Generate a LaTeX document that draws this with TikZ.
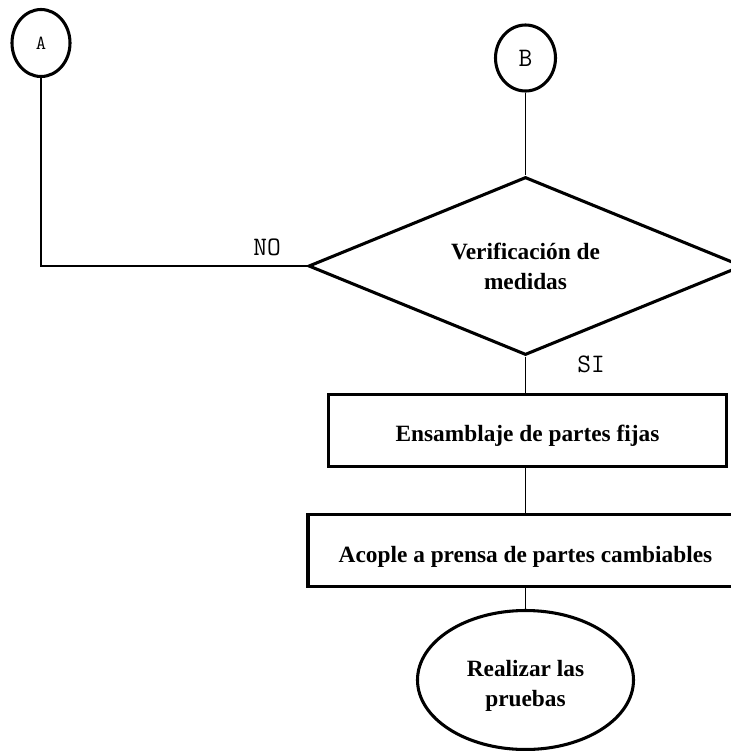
\documentclass[tikz,border=0pt]{standalone}
\usepackage{fontspec}
\setmainfont{Liberation Serif}
\usetikzlibrary{shapes.geometric}

% centred text block, lowered by #1 without changing the extents the node sees
\newcommand{\droptext}[2]{\raisebox{-#1}[\height][\depth]{\begin{tabular}{@{}c@{}}#2\end{tabular}}}

\begin{document}
\begin{tikzpicture}[x=0.75pt, y=-0.75pt,
  outline/.style={draw, line width=2.3pt, inner sep=0pt},
  link/.style={draw, line width=1.4pt},
  boxtext/.style={font=\fontsize{17.5}{22.5}\selectfont\bfseries},
  tag/.style={font=\fontsize{20}{24}\selectfont\ttfamily, inner sep=0pt},
  connector/.style={outline, ellipse},
]
\useasboundingbox (0,0) rectangle (731,751);
\clip (0,0) rectangle (731,751);

% off-page connectors
\node[connector, minimum width=43.5pt, minimum height=50.25pt,
      font=\fontsize{15}{18}\selectfont\ttfamily] (A) at (41,43) {A};
\node[connector, minimum width=45pt, minimum height=49.5pt,
      font=\fontsize{20}{22}\selectfont\ttfamily] (B) at (525.5,58) {B};

% decision
\node[outline, diamond, aspect=2.4, minimum width=325.5pt, minimum height=133.5pt,
      boxtext] (check) at (525.5,266) {\droptext{2pt}{Verificación de\\medidas}};

% process steps
\node[outline, rectangle, minimum width=298.5pt, minimum height=54pt,
      boxtext] (fixed) at (527.5,430.5) {\droptext{4pt}{Ensamblaje de partes fijas}};
\node[outline, rectangle, minimum width=326.25pt, minimum height=54pt,
      boxtext] (press) at (525.5,550.5) {\droptext{4.5pt}{Acople a prensa de partes cambiables}};

% terminal
\node[outline, ellipse, minimum width=162pt, minimum height=104.25pt,
      boxtext] (tests) at (525.5,680) {\droptext{3.75pt}{Realizar las\\pruebas}};

% branch labels
\node[tag] (no) at (267,247) {NO};
\node[tag] (si) at (591,364) {SI};

% connectors
\draw[link] (A.south) |- (check.west);
\draw[link] (B.south) -- (check.north);
\draw[link] (check.south) -- (check.south |- fixed.north);
\draw[link] (fixed.south -| press.north) -- (press.north);
\draw[link] (press.south) -- (tests.north);
\end{tikzpicture}
\end{document}
